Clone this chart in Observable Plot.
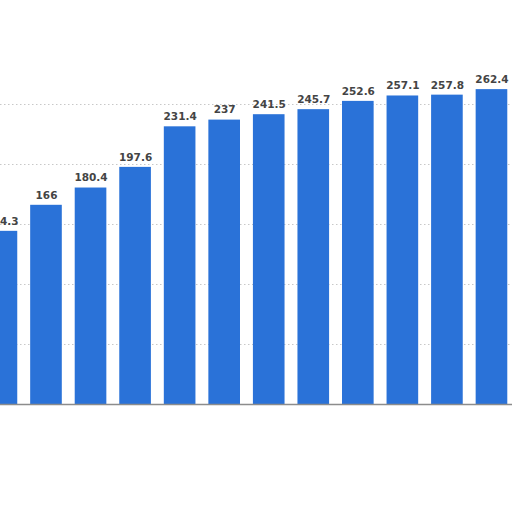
<!DOCTYPE html>
<html>
<head>
<meta charset="utf-8">
<script src="https://cdn.jsdelivr.net/npm/d3@7"></script>
<script src="https://cdn.jsdelivr.net/npm/@observablehq/plot@0.6"></script>
<style>
  html, body { margin: 0; padding: 0; background: #fff; }
  #chart svg { display: block; }
</style>
</head>
<body>
<div id="chart"></div>
<script>
const categories = ["c1","c2","c3","c4","c5","c6","c7","c8","c9","c10","c11","c12"];
const values = [144.3, 166, 180.4, 197.6, 231.4, 237, 241.5, 245.7, 252.6, 257.1, 257.8, 262.4];
const gridTicks = [50, 100, 150, 200, 250];

const data = categories.map((c, i) => ({cat: c, value: values[i]}));

const chart = Plot.plot({
  width: 512,
  height: 512,
  marginLeft: 0,
  marginRight: 0,
  marginTop: 0,
  marginBottom: 0,
  style: {background: "#fff", fontFamily: "DejaVu Sans, sans-serif"},
  x: {domain: categories, range: [-27.3, 520.2], padding: 0.29, round: false, axis: null},
  y: {domain: [0, 300], range: [404, 44], axis: null},
  marks: [
    Plot.ruleY(gridTicks, {stroke: "#c8c8c8", strokeDasharray: "1.5,2.5", strokeWidth: 1}),
    Plot.barY(data, {x: "cat", y: "value", fill: "#2a72d8"}),
    Plot.ruleY([0], {stroke: "#8c8c8c", strokeWidth: 1.5}),
    Plot.text(data, {x: "cat", y: "value", text: d => String(d.value), dy: -10,
      fill: "#444", fontWeight: "bold", fontSize: 10.5})
  ]
});
document.getElementById("chart").appendChild(chart);
</script>
</body>
</html>
